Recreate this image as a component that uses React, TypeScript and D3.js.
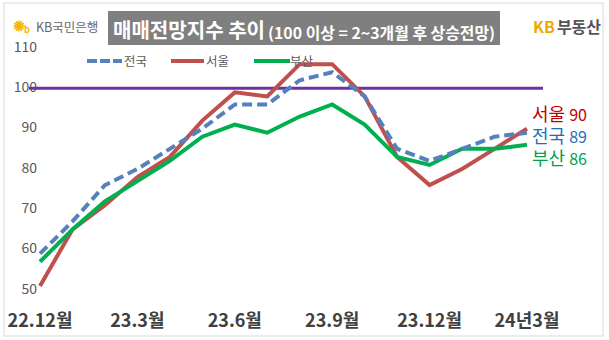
import React from "react";
import * as d3 from "d3";

const months = ["22.12","23.1","23.2","23.3","23.4","23.5","23.6","23.7","23.8","23.9","23.10","23.11","23.12","24.1","24.2","24.3"];
const nationwide = [59, 67, 76, 80, 85, 90, 96, 96, 102, 104, 98, 85, 82, 85, 88, 89];
const seoul = [51, 65, 71, 78, 83, 92, 99, 98, 106, 106, 98, 83, 76, 80, 85, 90];
const busan = [57, 65, 72, 77, 82, 88, 91, 89, 93, 96, 91, 83, 81, 85, 85, 86];
const yTicks = [50, 60, 70, 80, 90, 100, 110];
const xLabelIdx = [0, 3, 6, 9, 12, 15];
const xLabels = ["22.12월", "23.3월", "23.6월", "23.9월", "23.12월", "24년3월"];
const seriesNames = ["전국", "서울", "부산"];
const endLabels = [
  { name: "서울", value: 90 },
  { name: "전국", value: 89 },
  { name: "부산", value: 86 },
];

const FONT = "'Noto Sans CJK KR', 'Noto Sans', sans-serif";

export default function App() {
  const W = 609, H = 340;
  const x = d3.scaleLinear().domain([0, months.length - 1]).range([40, 527]);
  const y = d3.scaleLinear().domain([50, 110]).range([290, 48]);
  const line = d3.line<number>().x((_, i) => x(i)).y((d) => y(d));

  const colors = { nationwide: "#5581bd", seoul: "#c0504d", busan: "#00b050" };
  const labelColors = ["#c00000", "#1f6fb6", "#00a050"];

  const star = d3.range(6).map((k) => {
    const a = (k * Math.PI) / 6;
    return { x1: 19 - 5.5 * Math.cos(a), y1: 26 - 5.5 * Math.sin(a), x2: 19 + 5.5 * Math.cos(a), y2: 26 + 5.5 * Math.sin(a) };
  });

  return (
    <div style={{ position: "absolute", left: 0, top: 0 }}>
      <svg width={W} height={H} style={{ display: "block", fontFamily: FONT }}>
        <rect x={0} y={0} width={W} height={H} fill="#fff" />
        <rect x={4} y={3} width={599} height={333} fill="none" stroke="#d9d9d9" strokeWidth={1} />

        {/* KB 국민은행 logo */}
        {star.map((s, i) => (
          <line key={i} x1={s.x1} y1={s.y1} x2={s.x2} y2={s.y2} stroke="#f5b400" strokeWidth={1.6} />
        ))}
        <text x={24} y={33} fontSize={9} fill="#f5b400" fontWeight={700}>b</text>
        <text x={36} y={32} fontSize={12.5} fill="#666">KB국민은행</text>

        {/* KB 부동산 logo */}
        <text x={533} y={33} fontSize={16} fontWeight={700}>
          <tspan fill="#f0a800">KB</tspan>
          <tspan fill="#555" dx={2}>부동산</tspan>
        </text>

        {/* title */}
        <rect x={108} y={11} width={392} height={34} fill="#7f7f7f" />
        <text x={113} y={38} fill="#fff" fontWeight={700} fontSize={20.5} textLength={152} lengthAdjust="spacingAndGlyphs">
          매매전망지수 추이
        </text>
        <text x={268} y={39} fill="#fff" fontWeight={700} fontSize={15.5} textLength={227} lengthAdjust="spacingAndGlyphs">
          (100 이상 = 2~3개월 후 상승전망)
        </text>

        {/* y tick labels */}
        {yTicks.map((t) => (
          <text key={t} x={37} y={y(t)} textAnchor="end" dominantBaseline="middle" fontSize={14} fill="#595959">
            {t}
          </text>
        ))}

        {/* reference line at 100 */}
        <line x1={29} x2={543} y1={y(100)} y2={y(100)} stroke="#7030a0" strokeWidth={3} />

        {/* series */}
        <path d={line(seoul) || ""} fill="none" stroke={colors.seoul} strokeWidth={4} />
        <path d={line(busan) || ""} fill="none" stroke={colors.busan} strokeWidth={4} />
        <path d={line(nationwide) || ""} fill="none" stroke={colors.nationwide} strokeWidth={4} strokeDasharray="10,5" />

        {/* legend */}
        <line x1={87} x2={122} y1={61} y2={61} stroke={colors.nationwide} strokeWidth={4} strokeDasharray="10,3" />
        <text x={124} y={66} fontSize={12.5} fill="#595959">{seriesNames[0]}</text>
        <line x1={171} x2={204} y1={61} y2={61} stroke={colors.seoul} strokeWidth={4} />
        <text x={206} y={66} fontSize={12.5} fill="#595959">{seriesNames[1]}</text>
        <line x1={254} x2={290} y1={61} y2={61} stroke={colors.busan} strokeWidth={4} />
        <text x={290} y={66} fontSize={12.5} fill="#595959">{seriesNames[2]}</text>

        {/* end labels */}
        {endLabels.map((d, i) => (
          <text key={d.name} x={532} y={121 + i * 22} fill={labelColors[i]}>
            <tspan fontSize={18}>{d.name}</tspan>
            <tspan fontSize={16} dx={4}>{d.value}</tspan>
          </text>
        ))}

        {/* x labels */}
        {xLabelIdx.map((idx, k) => (
          <text key={k} x={x(idx)} y={327} textAnchor="middle" fontSize={18} fontWeight={700} fill="#404040">
            {xLabels[k]}
          </text>
        ))}
      </svg>
    </div>
  );
}
